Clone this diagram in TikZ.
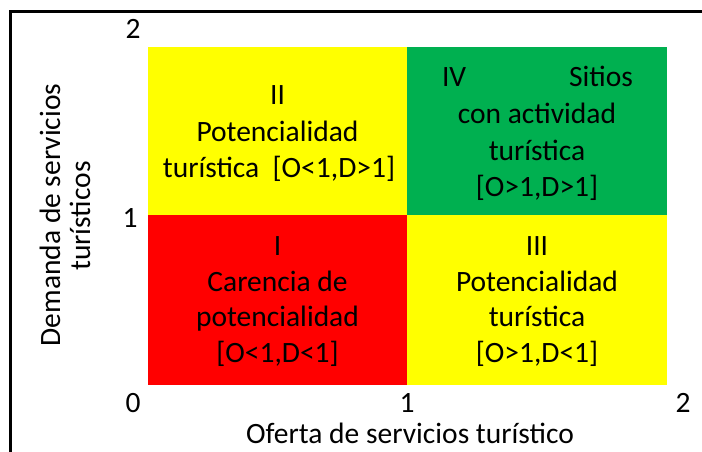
\documentclass[tikz,border=0pt]{standalone}
\usepackage{fontspec}
\setmainfont{Carlito}
\definecolor{qyellow}{HTML}{FFFF00}
\definecolor{qgreen}{HTML}{00B050}
\definecolor{qred}{HTML}{FF0000}
\begin{document}
\begin{tikzpicture}[x=1pt,y=-1pt,
  lbl/.style={anchor=base,inner sep=0pt,font=\fontsize{29.5}{35}\selectfont}]
\useasboundingbox (0,0) rectangle (702,452);
% frame
\draw[line width=3pt] (10.5,452) -- (10.5,12) -- (702,12);
% quadrants
\fill[qyellow] (148,47) rectangle (407,215);
\fill[qgreen]  (407,47) rectangle (667,215);
\fill[qred]    (148,215) rectangle (407,385);
\fill[qyellow] (407,215) rectangle (667,385);
% quadrant II
\node[lbl] (q2a) at (277.5,105) {II};
\node[lbl] (q2b) at (277.5,141) {Potencialidad};
\node[lbl] (q2c) at (279,177) {turística\ \ [O<1,D>1]};
% quadrant IV
\node[lbl] (q4a) at (537.5,87) {\makebox[191pt]{IV\hfill Sitios}};
\node[lbl] (q4b) at (537,123.5) {con actividad};
\node[lbl] (q4c) at (537,160) {turística};
\node[lbl] (q4d) at (537,196.5) {[O>1,D>1]};
% quadrant I
\node[lbl] (q1a) at (277.5,255.5) {I};
\node[lbl] (q1b) at (277.5,291) {Carencia de};
\node[lbl] (q1c) at (277.5,326.5) {potencialidad};
\node[lbl] (q1d) at (277.5,362) {[O<1,D<1]};
% quadrant III
\node[lbl] (q3a) at (537,255.5) {III};
\node[lbl] (q3b) at (537,291) {Potencialidad};
\node[lbl] (q3c) at (537,326.5) {turística};
\node[lbl] (q3d) at (537,362) {[O>1,D<1]};
% ticks
\node[lbl] (ty2) at (133,39) {2};
\node[lbl] (ty1) at (130,227) {1};
\node[lbl] (tx0) at (133,412) {0};
\node[lbl] (tx1) at (407,412) {1};
\node[lbl] (tx2) at (683,412) {2};
% axis titles
\node[lbl] (xt) at (410,443) {Oferta de servicios turístico};
\node[lbl,rotate=90] (yt1) at (60,215) {Demanda de servicios};
\node[lbl,rotate=90] (yt2) at (90,216) {turísticos};
\end{tikzpicture}
\end{document}
